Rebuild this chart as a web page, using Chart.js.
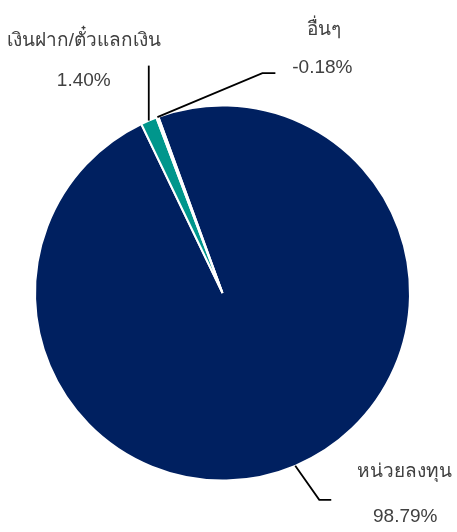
<!DOCTYPE html>
<html>
<head>
<meta charset="utf-8">
<script src="https://cdn.jsdelivr.net/npm/chart.js@4/dist/chart.umd.min.js"></script>
<style>
  html, body { margin: 0; padding: 0; background: #fff; }
  #wrap { width: 457px; height: 532px; }
</style>
</head>
<body>
<div id="wrap"><canvas id="myChart" width="457" height="532"></canvas></div>
<script>
// slice data
var labels = ["หน่วยลงทุน", "เงินฝาก/ตั๋วแลกเงิน", "อื่นๆ"];
var values = [98.79, 1.40, -0.18];
var colors = ["#002060", "#00968C", "#ffffff"];

// where each label sits, relative to the point on the pie edge
var leaders = [
  { elbow: [24, 34], tail: 12, text: [109, 6], pct: [110, 51] },
  { elbow: [0, -55], tail: 0, text: [-65, -80], pct: [-65, -40] },
  { elbow: [105, -44], tail: 13, text: [167, -87], pct: [165, -49] }
];

var fontStack = "'Liberation Sans', Tahoma, sans-serif";

var leaderLabels = {
  id: "leaderLabels",
  afterDatasetsDraw: function(chart) {
    var ctx = chart.ctx;
    var meta = chart.getDatasetMeta(0);
    meta.data.forEach(function(arc, i) {
      var p = arc.getProps(["x", "y", "startAngle", "endAngle", "outerRadius"], true);
      var mid = (p.startAngle + p.endAngle) / 2;
      var ax = p.x + Math.cos(mid) * p.outerRadius;
      var ay = p.y + Math.sin(mid) * p.outerRadius;
      var l = leaders[i];
      var ex = ax + l.elbow[0], ey = ay + l.elbow[1];
      ctx.save();
      ctx.strokeStyle = "#000";
      ctx.lineWidth = 1.8;
      ctx.beginPath();
      ctx.moveTo(ax, ay);
      ctx.lineTo(ex, ey);
      ctx.lineTo(ex + l.tail, ey);
      ctx.stroke();
      ctx.fillStyle = "#404040";
      ctx.font = "19px " + fontStack;
      ctx.textAlign = "center";
      ctx.textBaseline = "middle";
      ctx.fillText(labels[i], ax + l.text[0], ay + l.text[1]);
      var v = values[i];
      ctx.fillText(v.toFixed(2) + "%", ax + l.pct[0], ay + l.pct[1]);
      ctx.restore();
    });
  }
};

new Chart(document.getElementById("myChart"), {
  type: "pie",
  data: {
    labels: labels,
    datasets: [{
      data: values,
      backgroundColor: colors,
      borderColor: "#ffffff",
      borderWidth: 2
    }]
  },
  options: {
    responsive: false,
    animation: false,
    rotation: -20,
    layout: { padding: { left: 34, right: 46, top: 104, bottom: 50 } },
    plugins: {
      legend: { display: false },
      tooltip: { enabled: false }
    }
  },
  plugins: [leaderLabels]
});
</script>
</body>
</html>
